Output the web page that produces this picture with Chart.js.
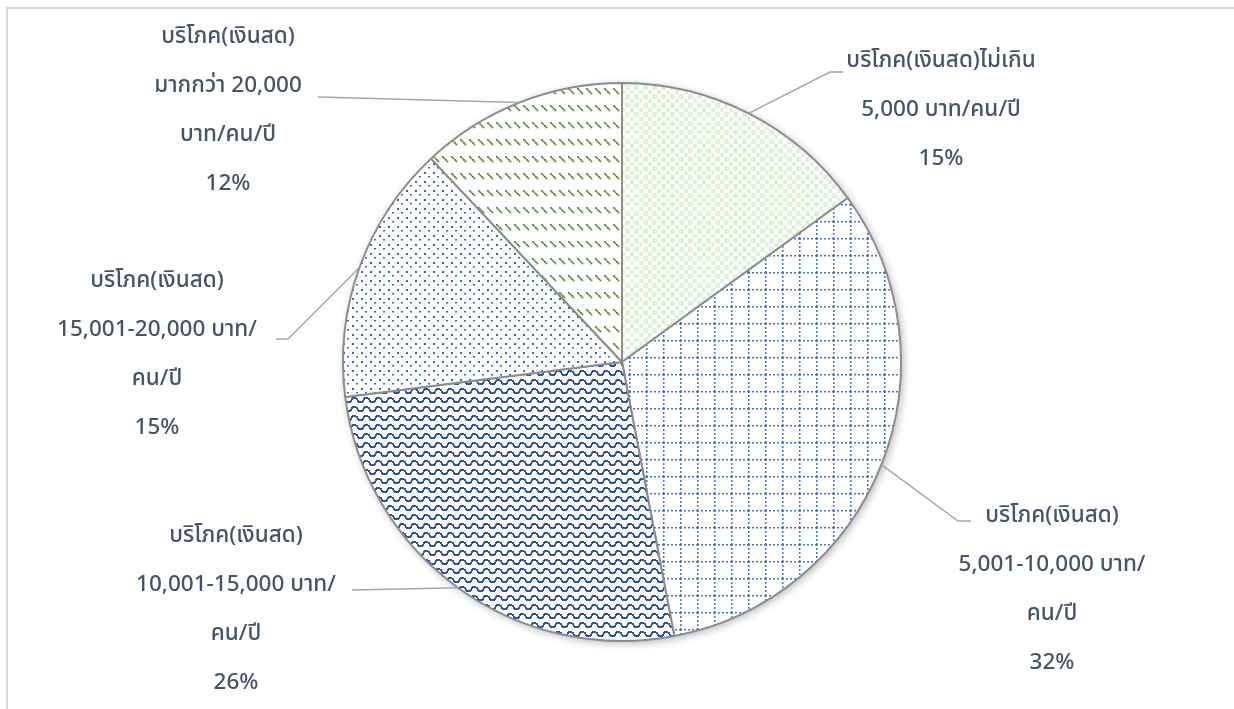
<!DOCTYPE html>
<html>
<head>
<meta charset="utf-8">
<script src="https://cdn.jsdelivr.net/npm/chart.js"></script>
<style>
  body { margin: 0; background: #fff; }
  #wrap { position: relative; width: 1234px; height: 709px; overflow: hidden; }
  #frame { position: absolute; left: 6px; top: 7px; width: 1240px; height: 720px;
           border-left: 2px solid #d9d9d9; border-top: 2px solid #d9d9d9; }
  canvas { position: absolute; left: 0; top: 0; }
</style>
</head>
<body>
<div id="wrap">
  <div id="frame"></div>
  <canvas id="myChart" width="1234" height="709"></canvas>
</div>
<script>
// data
const categories = [
  ['บริโภค(เงินสด)ไม่เกิน', '5,000 บาท/คน/ปี'],
  ['บริโภค(เงินสด)', '5,001-10,000 บาท/', 'คน/ปี'],
  ['บริโภค(เงินสด)', '10,001-15,000 บาท/', 'คน/ปี'],
  ['บริโภค(เงินสด)', '15,001-20,000 บาท/', 'คน/ปี'],
  ['บริโภค(เงินสด)', 'มากกว่า 20,000', 'บาท/คน/ปี']
];
const shares = [15, 32, 26, 15, 12];

// label placement: text center + leader elbow, relative to the pie center (px)
const labelPos = [
  { x: 319, y: -300, elbow: [208, -290], end: [221, -290] },
  { x: 430, y: 155, elbow: [336, 159], end: [349, 159] },
  { x: -386, y: 175, elbow: [-270, 228], end: [-270, 228] },
  { x: -465, y: -80, elbow: [-334, -23], end: [-346, -23] },
  { x: -394, y: -324, elbow: [-304, -265], end: [-304, -265] }
];
const lineGap = 49;

function makePattern(w, h, draw) {
  const c = document.createElement('canvas');
  c.width = w; c.height = h;
  const g = c.getContext('2d');
  g.fillStyle = '#fff';
  g.fillRect(0, 0, w, h);
  draw(g);
  return document.getElementById('myChart').getContext('2d').createPattern(c, 'repeat');
}

const checker = makePattern(9, 9, g => {
  g.fillStyle = '#e2efda';
  g.fillRect(0, 0, 4, 4);
  g.fillRect(4, 4, 5, 5);
});
const grid = makePattern(17, 17, g => {
  g.fillStyle = '#4472c4';
  for (let i = 0; i < 17; i += 4) {
    g.fillRect(i, 0, 2, 1.5);
    g.fillRect(0, i, 1.5, 2);
  }
});
const wave = makePattern(12, 9, g => {
  g.fillStyle = '#2f5597';
  g.fillRect(0, 5, 3, 2);
  g.fillRect(2, 4, 2, 2);
  g.fillRect(3, 2, 2, 2);
  g.fillRect(4, 1, 4, 2);
  g.fillRect(8, 2, 2, 2);
  g.fillRect(9, 4, 2, 2);
  g.fillRect(10, 5, 2, 2);
});
const dots = makePattern(9, 9, g => {
  g.fillStyle = '#3a64b4';
  g.fillRect(1, 1, 2, 2);
  g.fillRect(5, 5, 2, 1.5);
});
const diag = makePattern(9, 17, g => {
  g.fillStyle = '#548235';
  for (let k = 0; k < 4; k++) g.fillRect(1 + k * 1.5, 3 + k * 1.5, 1.8, 1.8);
});
const fills = [checker, grid, wave, dots, diag];

const pieShadow = {
  id: 'pieShadow',
  beforeDatasetsDraw(chart) {
    const a = chart.getDatasetMeta(0).data[0];
    const ctx = chart.ctx;
    ctx.save();
    ctx.shadowColor = 'rgba(0,0,0,0.3)';
    ctx.shadowBlur = 8;
    ctx.shadowOffsetX = 2;
    ctx.shadowOffsetY = 2;
    ctx.fillStyle = '#fff';
    ctx.beginPath();
    ctx.arc(a.x, a.y, a.outerRadius, 0, Math.PI * 2);
    ctx.fill();
    ctx.restore();
  }
};

const sliceLabels = {
  id: 'sliceLabels',
  afterDatasetsDraw(chart) {
    const ctx = chart.ctx;
    const total = shares.reduce((s, v) => s + v, 0);
    chart.getDatasetMeta(0).data.forEach((arc, i) => {
      const mid = (arc.startAngle + arc.endAngle) / 2;
      const ax = arc.x + Math.cos(mid) * arc.outerRadius;
      const ay = arc.y + Math.sin(mid) * arc.outerRadius;
      const p = labelPos[i];
      ctx.save();
      ctx.strokeStyle = '#a6a6a6';
      ctx.lineWidth = 1.5;
      ctx.beginPath();
      ctx.moveTo(ax, ay);
      ctx.lineTo(arc.x + p.elbow[0], arc.y + p.elbow[1]);
      ctx.lineTo(arc.x + p.end[0], arc.y + p.end[1]);
      ctx.stroke();
      ctx.fillStyle = '#44546a';
      ctx.font = '500 22.5px Tahoma, "Noto Sans Thai", "Noto Sans", sans-serif';
      ctx.textAlign = 'center';
      ctx.textBaseline = 'middle';
      const lines = categories[i].concat([Math.round(shares[i] / total * 100) + '%']);
      lines.forEach((t, k) => ctx.fillText(t, arc.x + p.x, arc.y + p.y + k * lineGap));
      ctx.restore();
    });
  }
};

new Chart(document.getElementById('myChart'), {
  type: 'pie',
  data: {
    labels: categories.map(c => c.join(' ')),
    datasets: [{
      data: shares,
      backgroundColor: fills,
      borderColor: '#8c8c8c',
      borderWidth: 2
    }]
  },
  options: {
    responsive: false,
    animation: false,
    layout: { padding: { top: 82, bottom: 67, left: 10, right: 0 } },
    plugins: { legend: { display: false }, tooltip: { enabled: false } }
  },
  plugins: [pieShadow, sliceLabels]
});
</script>
</body>
</html>
